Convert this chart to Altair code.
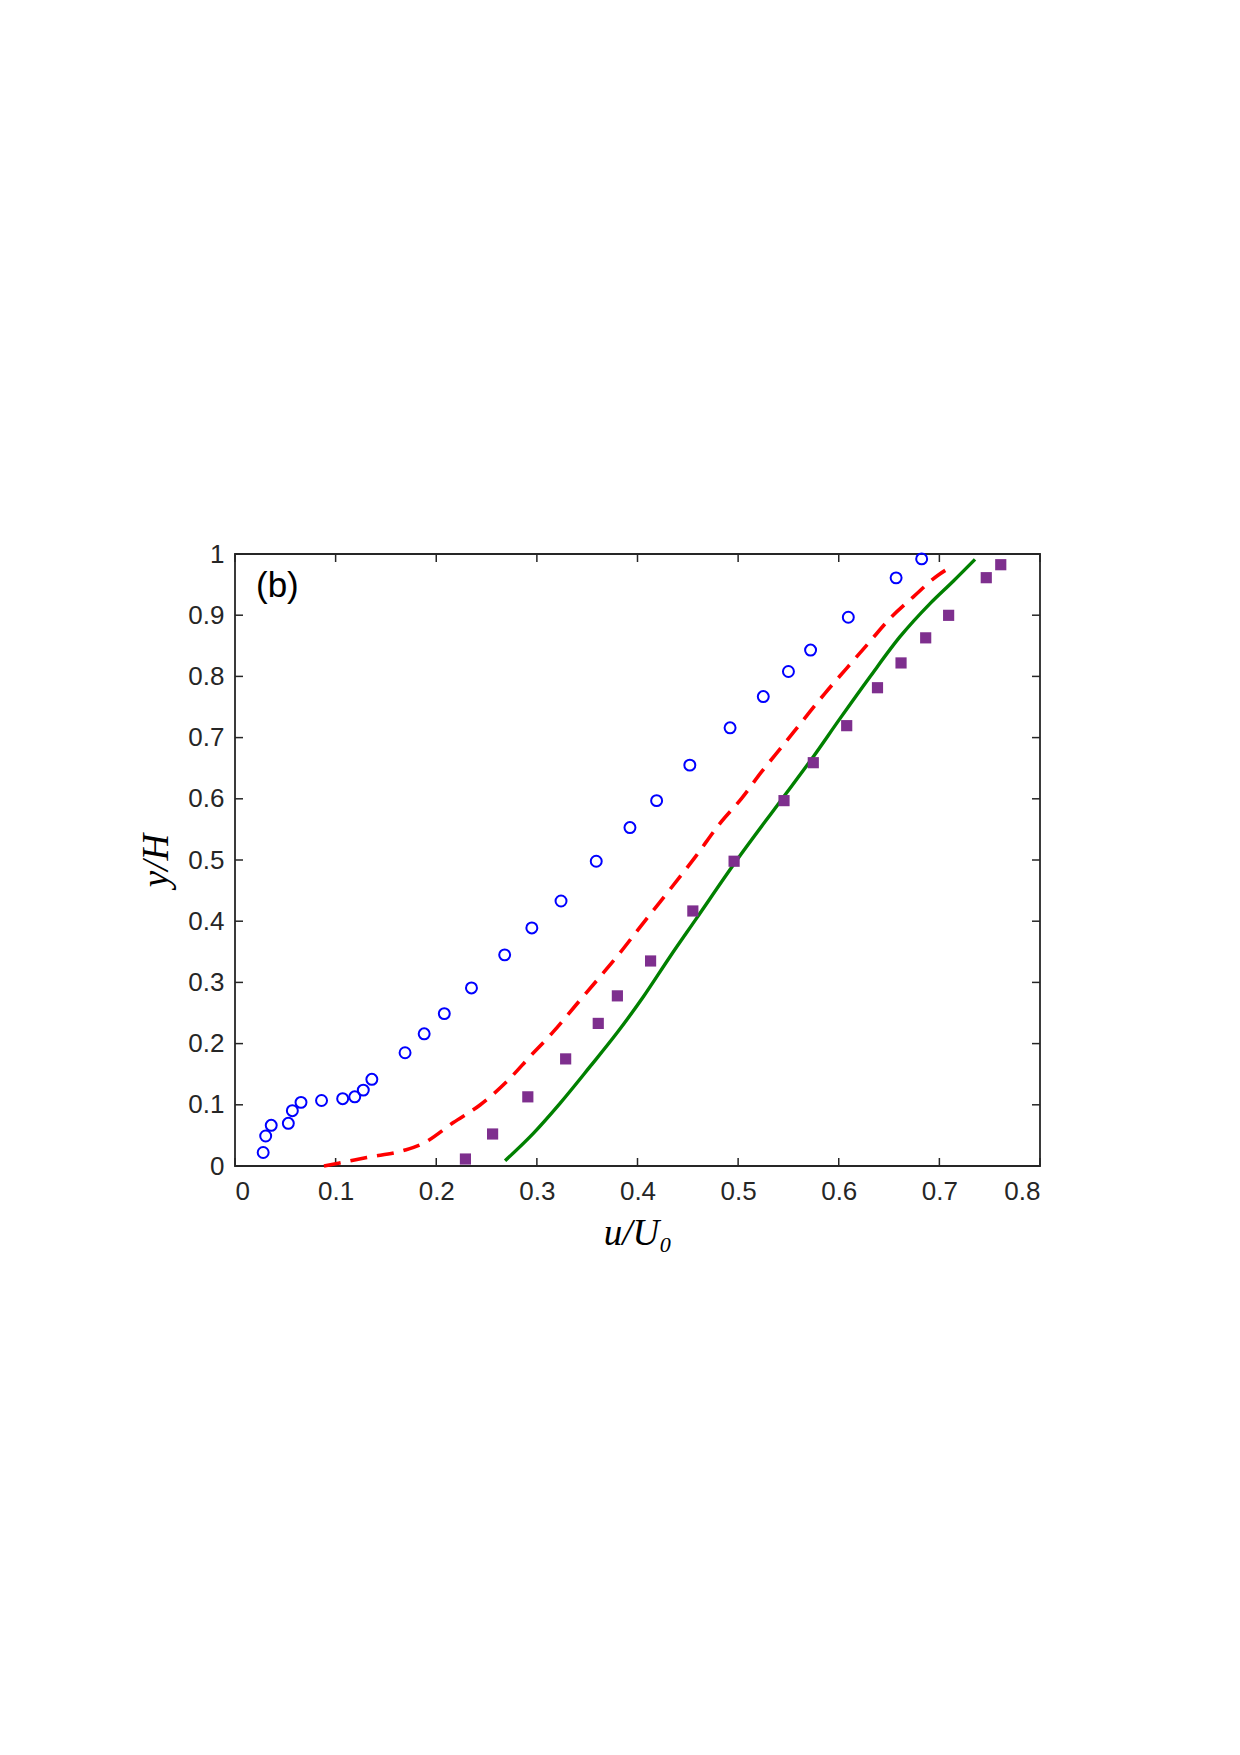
import altair as alt
import pandas as pd

# ---- data ----
circ_x = [0.028, 0.0305, 0.036, 0.053, 0.057, 0.0656, 0.086, 0.107, 0.119, 0.1275, 0.136,
          0.169, 0.188, 0.208, 0.235, 0.268, 0.295, 0.324, 0.359, 0.3925, 0.419, 0.452,
          0.492, 0.525, 0.550, 0.572, 0.6095, 0.657, 0.6824]
circ_y = [0.022, 0.049, 0.0665, 0.0697, 0.0904, 0.104, 0.107, 0.110, 0.113, 0.124, 0.1416,
          0.185, 0.216, 0.249, 0.291, 0.345, 0.389, 0.433, 0.498, 0.553, 0.597, 0.655,
          0.716, 0.767, 0.808, 0.843, 0.8966, 0.961, 0.992]

sq_x = [0.229, 0.256, 0.291, 0.3286, 0.361, 0.380, 0.413, 0.455, 0.496, 0.5456, 0.5747,
        0.6079, 0.6385, 0.6619, 0.6864, 0.7092, 0.7466, 0.761]
sq_y = [0.0114, 0.0523, 0.113, 0.175, 0.233, 0.278, 0.335, 0.4167, 0.498, 0.597, 0.659,
        0.7195, 0.7815, 0.822, 0.863, 0.8998, 0.9613, 0.9825]

red_x = [0.0884, 0.1027, 0.131, 0.169, 0.187, 0.217, 0.2435, 0.2716, 0.293, 0.3164,
         0.338, 0.3594, 0.381, 0.4008, 0.4217, 0.4588, 0.482, 0.5035, 0.5234, 0.5449,
         0.5648, 0.5863, 0.6078, 0.6294, 0.651, 0.6741, 0.699, 0.7066]
red_y = [0.0, 0.0044, 0.014, 0.026, 0.037, 0.071, 0.0997, 0.1405, 0.1786, 0.2195,
         0.2614, 0.3028, 0.345, 0.3867, 0.430, 0.508, 0.560, 0.6008, 0.6443, 0.6879,
         0.7288, 0.7724, 0.8132, 0.854, 0.8949, 0.930, 0.9657, 0.974]

green_x = [0.2684, 0.2965, 0.323, 0.3528, 0.3793, 0.4058, 0.4323, 0.4588, 0.4952, 0.5416,
           0.5747, 0.6012, 0.6311, 0.6609, 0.6907, 0.714, 0.7354]
green_y = [0.0087, 0.0534, 0.1024, 0.1623, 0.2168, 0.2766, 0.342, 0.405, 0.4918, 0.5953,
           0.6688, 0.731, 0.7995, 0.8649, 0.919, 0.956, 0.9913]

x_ticks = [0, 0.1, 0.2, 0.3, 0.4, 0.5, 0.6, 0.7, 0.8]
y_ticks = [0, 0.1, 0.2, 0.3, 0.4, 0.5, 0.6, 0.7, 0.8, 0.9, 1]
panel_label = "(b)"
x_title = "u/U₀"
y_title = "y/H"

W, H = 805, 612
TICK = 8
AX = "#262626"
FONT = "Liberation Sans"

df_c = pd.DataFrame({"x": circ_x, "y": circ_y})
df_s = pd.DataFrame({"x": sq_x, "y": sq_y})
df_r = pd.DataFrame({"x": red_x, "y": red_y, "i": range(len(red_x))})
df_g = pd.DataFrame({"x": green_x, "y": green_y, "i": range(len(green_x))})
df_xt = pd.DataFrame({"v": x_ticks})
df_yt = pd.DataFrame({"v": y_ticks})

xs = alt.Scale(domain=[0, 0.8], nice=False, zero=False)
ys = alt.Scale(domain=[0, 1], nice=False, zero=False)

ax_x_main = alt.Axis(orient="bottom", values=x_ticks, format="~g", ticks=False,
                     domain=False, grid=False, labelFont=FONT, labelFontSize=26,
                     labelColor=AX, labelPadding=12, title=x_title,
                     titleFont="Liberation Serif", titleFontStyle="italic",
                     titleFontWeight="normal", titleFontSize=37, titleColor="black",
                     titleBaseline="alphabetic", titleY=78, titleX=W / 2)
ax_y_main = alt.Axis(orient="left", values=y_ticks, format="~g", ticks=False,
                     domain=False, grid=False, labelFont=FONT, labelFontSize=26,
                     labelColor=AX, labelPadding=11, title=y_title,
                     titleFont="Liberation Serif", titleFontStyle="italic",
                     titleFontWeight="normal", titleFontSize=37, titleColor="black",
                     titleAngle=270, titleBaseline="alphabetic", titleX=-68, titleY=H / 2)

circles = alt.Chart(df_c).mark_point(shape="circle", filled=False, color="#0000FF",
                                     size=120, strokeWidth=2.0, opacity=1).encode(
    x=alt.X("x:Q", scale=xs, axis=ax_x_main),
    y=alt.Y("y:Q", scale=ys, axis=ax_y_main),
)

squares = alt.Chart(df_s).mark_point(shape="square", filled=True, color="#7E2F8E",
                                     size=125, opacity=1).encode(
    x=alt.X("x:Q", scale=xs, axis=None),
    y=alt.Y("y:Q", scale=ys, axis=None),
)

red = alt.Chart(df_r).mark_line(color="#FF0000", strokeWidth=3.6, interpolate="monotone",
                                strokeDash=[17, 10]).encode(
    x=alt.X("x:Q", scale=xs, axis=None),
    y=alt.Y("y:Q", scale=ys, axis=None),
    order="i:Q",
)

green = alt.Chart(df_g).mark_line(color="#008000", strokeWidth=3.4,
                                  interpolate="monotone").encode(
    x=alt.X("x:Q", scale=xs, axis=None),
    y=alt.Y("y:Q", scale=ys, axis=None),
    order="i:Q",
)

# inward tick marks on all four sides (MATLAB style box)
tick_style = dict(color=AX, strokeWidth=1.5)
ticks_bottom = alt.Chart(df_xt).mark_rule(**tick_style).encode(
    x=alt.X("v:Q", scale=xs, axis=None), y=alt.value(H), y2=alt.value(H - TICK))
ticks_top = alt.Chart(df_xt).mark_rule(**tick_style).encode(
    x=alt.X("v:Q", scale=xs, axis=None), y=alt.value(0), y2=alt.value(TICK))
ticks_left = alt.Chart(df_yt).mark_rule(**tick_style).encode(
    y=alt.Y("v:Q", scale=ys, axis=None), x=alt.value(0), x2=alt.value(TICK))
ticks_right = alt.Chart(df_yt).mark_rule(**tick_style).encode(
    y=alt.Y("v:Q", scale=ys, axis=None), x=alt.value(W - TICK), x2=alt.value(W))

label = alt.Chart(pd.DataFrame({"t": [panel_label]})).mark_text(
    font=FONT, fontSize=35, align="left", baseline="alphabetic", color="black"
).encode(text="t:N", x=alt.value(21), y=alt.value(43))

chart = alt.layer(
    ticks_bottom, ticks_top, ticks_left, ticks_right,
    green, red, squares, circles, label
).resolve_axis(
    x="independent", y="independent"
).properties(
    width=W, height=H,
    background="white",
    autosize=alt.AutoSizeParams(type="none"),
    padding={"left": 235, "top": 554, "right": 150, "bottom": 300},
).configure_view(
    stroke=AX, strokeWidth=1.8
)

chart.save("out.html", embed_options={"renderer": "svg", "actions": False})
